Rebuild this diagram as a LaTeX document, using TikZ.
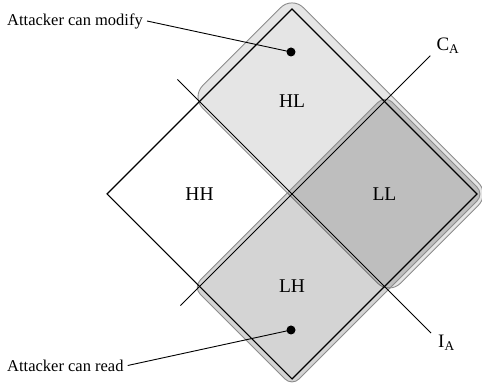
\documentclass[tikz,border=0pt]{standalone}
\usepackage{fontspec}
\setmainfont{Liberation Serif}
\usepackage{tikz}
\usetikzlibrary{positioning}
\usepackage{xcolor}
\definecolor{RegionEdge}{gray}{0.55}
\definecolor{RegionFill}{gray}{0.0}
\tikzset{%
  region/.style={%
    draw=RegionEdge,%
    fill=RegionFill,%
    line width=0.9pt,%
  },
  modify_region/.style={%
    region,%
    fill opacity=0.10,%
    rounded corners=16pt,%
  },
  read_region/.style={%
    region,%
    fill opacity=0.17,%
    rounded corners=10pt,%
  },
  lattice/.style={%
    draw=black,%
    line width=1.1pt,%
    line join=miter,%
  },
  axis_line/.style={%
    draw=black,%
    line width=0.8pt,%
  },
  quad_label/.style={%
    font={\fontsize{19.5}{23}\selectfont},%
    inner sep=0pt,%
  },
  axis_label/.style={%
    font={\fontsize{19}{23}\selectfont},%
    inner sep=0pt,%
  },
  annotate/.style={%
    font={\fontsize{16.5}{20}\selectfont},%
    inner sep=4pt,%
  },
  pointer/.style={%
    draw=black,%
    line width=0.9pt,%
  },
  dot/.style={%
    circle,%
    fill=black,%
    minimum size=9pt,%
    inner sep=0pt,%
  },
}

\begin{document}
\begin{tikzpicture}[x=1pt, y=1pt]
  \useasboundingbox (0,0) rectangle (482,387);

  \begin{scope}[shift={(292,193)}, rotate=45]
    \coordinate (Top) at (130.8,130.8);
    \coordinate (Right) at (130.8,-130.8);
    \coordinate (Bottom) at (-130.8,-130.8);
    \coordinate (Left) at (-130.8,130.8);
    \coordinate (CA_start) at (-157.7,0);
    \coordinate (CA_end) at (195.6,0);
    \coordinate (IA_start) at (0,162);
    \coordinate (IA_end) at (0,-196.6);

    % attacker regions
    \draw [modify_region] (-2.5,-139.8) rectangle (139.8,139.8);
    \draw [read_region] (-135.8,-135.8) rectangle (135.8,4);

    \draw [lattice] (Top) -- (Right) -- (Bottom) -- (Left) -- cycle;
    \draw [axis_line] (CA_start) -- (CA_end);
    \draw [axis_line] (IA_start) -- (IA_end);

    \node [quad_label] (HL) at (65.4,65.4) {HL};
    \node [quad_label] (HH) at (-65.4,65.4) {HH};
    \node [quad_label] (LL) at (65.4,-65.4) {LL};
    \node [quad_label] (LH) at (-65.4,-65.4) {LH};
  \end{scope}

  \node [axis_label, anchor=south west, above right = 2 and 6 of CA_end] (CA) {C\textsubscript{A}};
  \node [axis_label, anchor=north west, below right = 2 and 7 of IA_end] (IA) {I\textsubscript{A}};

  \node [dot] (modify_dot) at (291,335) {};
  \node [dot] (read_dot) at (291,57) {};
  \node [annotate, anchor=west] (modify_text) at (3,366) {Attacker can modify};
  \node [annotate, anchor=west] (read_text) at (3,21.5) {Attacker can read};

  \draw [pointer]
    (modify_text.east)
    --
    (modify_dot.center);
  \draw [pointer]
    (read_text.east)
    --
    (read_dot.center);
\end{tikzpicture}
\end{document}
